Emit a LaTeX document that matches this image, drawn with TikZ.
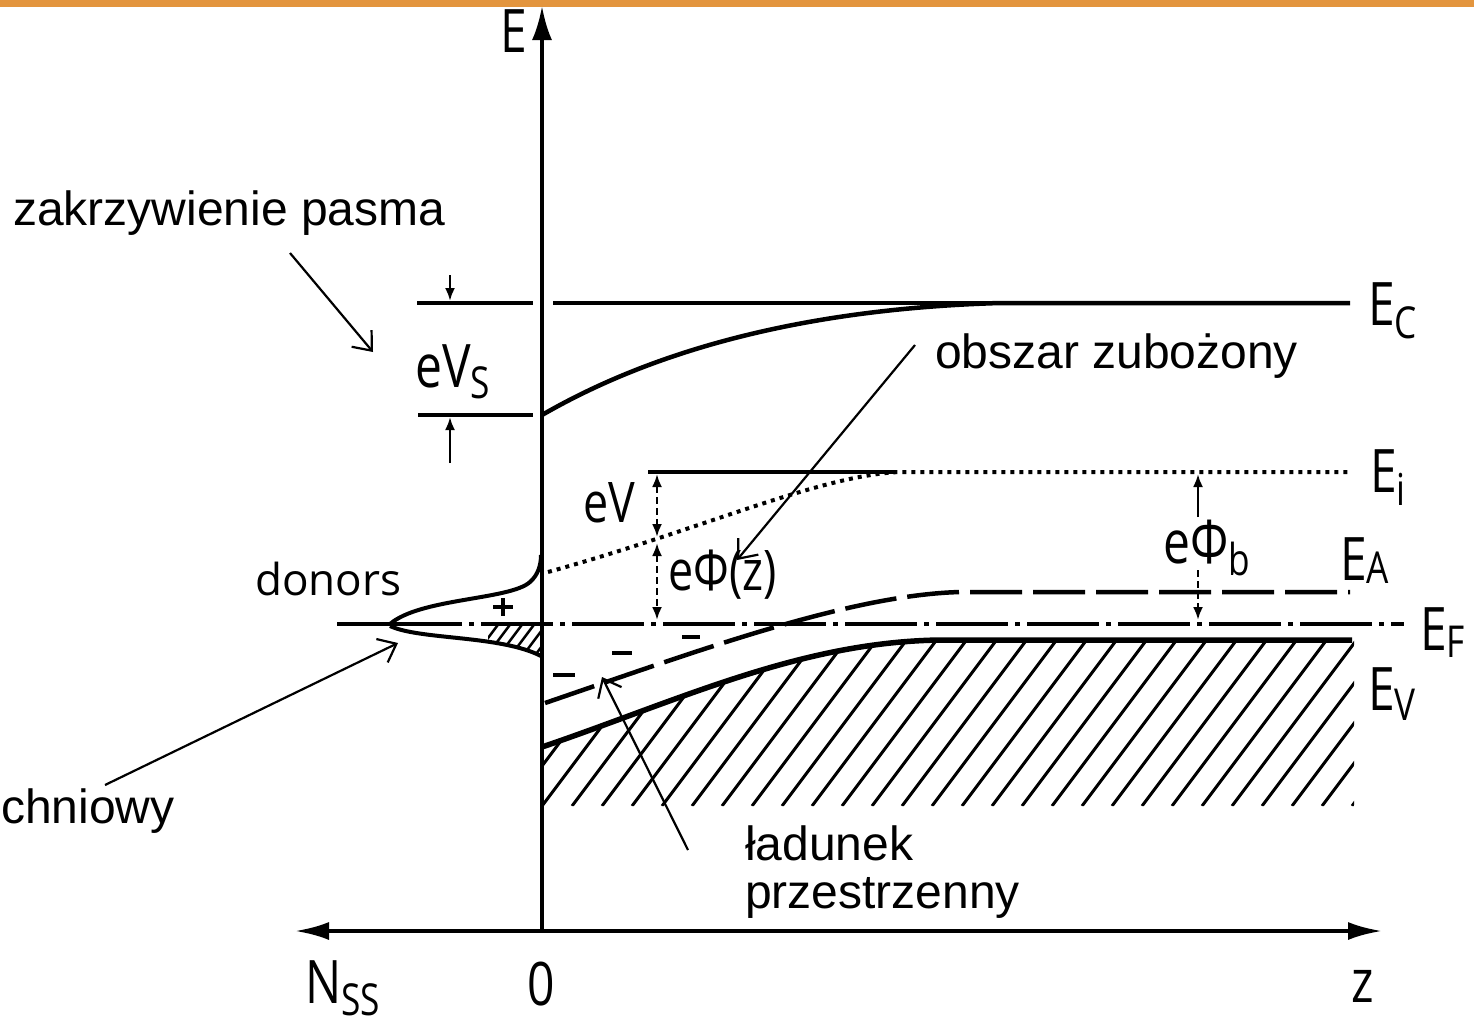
\documentclass[tikz,border=0pt]{standalone}
\usepackage{fontspec}
\setmainfont{Liberation Sans}
\newfontfamily\figfont[FakeStretch=0.8]{Open Sans}
\newfontfamily\figfontw{Open Sans}
\usetikzlibrary{arrows.meta}
\definecolor{barcol}{HTML}{E3953E}
\newcommand\lowsub[2][12]{\raisebox{-#1pt}{\fontsize{44}{44}\selectfont #2}}
\begin{document}
\begin{tikzpicture}[x=1pt,y=-1pt,
  annot/.style={font=\fontsize{48}{48}\selectfont, inner sep=0pt},
  lbl/.style={font=\figfont\fontsize{60}{60}\selectfont, inner sep=0pt},
  lblw/.style={font=\figfontw\fontsize{44}{44}\selectfont, inner sep=0pt},
  band/.style={line width=4.5pt},
  refline/.style={line width=3.5pt},
  axisline/.style={line width=4pt},
  pointer/.style={line width=2.2pt, -{Straight Barb[length=16pt,width=26pt]}},
  dimtip/.style={line width=2.5pt, -{Latex[length=13pt,width=10pt]}},
  dimboth/.style={line width=2.5pt, dash pattern=on 7pt off 4pt, {Latex[length=13pt,width=10pt]}-{Latex[length=13pt,width=10pt]}},
  hatchline/.style={line width=3pt},
  chg/.style={line width=4pt}
]
\useasboundingbox (0,0) rectangle (1474,1023);
\fill[barcol] (0,0) rectangle (1474,7);

% axes
\coordinate (O) at (542,931);
\coordinate (Etop) at (542,6);
\coordinate (Nl) at (295,931);
\coordinate (Zr) at (1382,931);
\draw[axisline, -{Latex[length=34pt,width=20pt]}] (O) -- (Etop);
\draw[axisline, {Latex[length=34pt,width=18pt]}-{Latex[length=34pt,width=18pt]}] (Nl) -- (Zr);
\node[lbl, anchor=base west] (elab) at (500,52) {E};
\node[lbl, anchor=base west] (nss) at (305,1003) {N\lowsub[12]{SS}};
\node[lbl] (zero) at (541,984) {0};
\node[lbl] (zlab) at (1363,986) {z};

% hatched valence band
\begin{scope}
\clip (542,747) .. controls (680,700) and (800,642) .. (940,640) -- (1354,640) -- (1354,806) -- (542,806) -- cycle;
\foreach \i in {0,...,34} \draw[hatchline] (392+\i*30,806) -- ++(150,-200);
\end{scope}

% E_C
\draw[refline] (417,303) -- (533,303);
\draw[refline] (553,303) -- (1000,303);
\draw[band] (542,415) .. controls (620,370) and (760,310) .. (1000,303) -- (1350,303);
\draw[refline] (418,415) -- (533,415);
\draw[dimtip] (450,275) -- (450,301);
\draw[dimtip] (450,463) -- (450,417);
\node[lbl, anchor=base west] (evs) at (415,387) {eV\lowsub[11]{S}};
\node[lbl, anchor=base west] (ec) at (1368,325) {E\lowsub[13]{C}};

% E_i
\draw[refline] (648,472) -- (895,472);
\draw[line width=4pt, dash pattern=on 4pt off 5pt] (548,572) .. controls (700,530) and (820,475) .. (900,472) -- (1350,472);
\node[lbl, anchor=base west] (ei) at (1370,492) {E\lowsub[13]{i}};

% E_F
\draw[line width=4pt] (337,624) -- (390,624);
\draw[line width=4pt, dash pattern=on 72pt off 7pt on 5pt off 7pt] (390,624) -- (1404,624);
\node[lbl, anchor=base west] (ef) at (1420,650) {E\lowsub[7]{F}};

% E_A
\draw[line width=4.5pt, dash pattern=on 52pt off 11pt] (545,703) .. controls (700,650) and (850,595) .. (960,592) -- (1350,592);
\node[lbl, anchor=base west] (ea) at (1340,580) {E\lowsub[3]{A}};

% E_V
\draw[line width=5.5pt] (542,747) .. controls (680,700) and (800,642) .. (940,640) -- (1352,640);
\node[lbl, anchor=base west] (ev) at (1368,710) {E\lowsub[10]{V}};

% dimension arrows
\draw[dimboth] (657,474) -- (657,537);
\draw[dimboth] (657,543) -- (657,620);
\node[lbl, font=\figfont\fontsize{56}{56}\selectfont, anchor=base west] (evl) at (583,522) {eV};
\node[lbl, font=\figfont\fontsize{56}{56}\selectfont, anchor=base west] (ephz) at (668,590) {eΦ(z)};
\draw[dimtip] (1198,517) -- (1198,474);
\draw[dimtip, dash pattern=on 7pt off 4pt] (1198,570) -- (1198,620);
\node[lbl, anchor=base west] (ephb) at (1163,563) {eΦ\lowsub[12]{b}};

% donors
\begin{scope}
\clip (488,620) rectangle (541,665);
\clip (390,626) .. controls (420,640) and (500,635) .. (541,656) -- (541,624) -- cycle;
\foreach \i in {0,...,6} \draw[line width=2.5pt] (470+\i*12,662) -- ++(30,-40);
\end{scope}
\draw[line width=4pt] (390,624) .. controls (420,598) and (510,600) .. (530,582) .. controls (538,575) and (541,565) .. (541,555);
\draw[line width=4pt] (390,626) .. controls (420,640) and (500,635) .. (541,656);
\node[lblw, anchor=base west] (don) at (255,595) {donors};
\draw[line width=3.5pt] (493,607) -- (513,607) (503,598) -- (503,616);

% space charge minus signs
\draw[chg] (553,675) -- (575,675);
\draw[chg] (612,653) -- (632,653);
\draw[chg] (682,637) -- (700,637);

% annotations
\node[annot, anchor=base west] (zak) at (13,225) {zakrzywienie pasma};
\node[annot, anchor=base west] (obs) at (935,368) {obszar zubożony};
\node[annot, anchor=base west] (lad) at (745,860) {ładunek};
\node[annot, anchor=base west] (lad2) at (745,908) {przestrzenny};
\node[annot, anchor=base west] (pow) at (1,823) {chniowy};

\coordinate (zakS) at (290,253);
\coordinate (zakT) at (373,352);
\coordinate (obsS) at (915,345);
\coordinate (obsT) at (737,560);
\coordinate (ladS) at (688,850);
\coordinate (ladT) at (602,677);
\coordinate (powS) at (105,785);
\coordinate (powT) at (398,643);
\draw[pointer] (zakS) -- (zakT);
\draw[pointer] (obsS) -- (obsT);
\draw[pointer] (ladS) -- (ladT);
\draw[pointer] (powS) -- (powT);
\end{tikzpicture}
\end{document}
